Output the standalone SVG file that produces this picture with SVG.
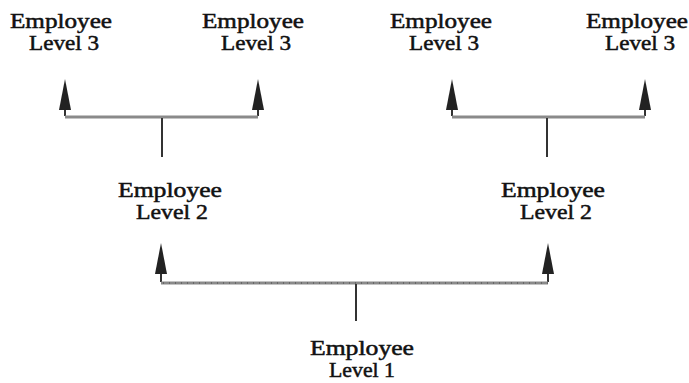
<svg xmlns="http://www.w3.org/2000/svg" width="689" height="383" viewBox="0 0 689 383">
  <style>
    .label { font-family: "Liberation Serif", "Times New Roman", serif; font-size: 21px; fill: #111; stroke: #111; stroke-width: 0.5; text-anchor: middle; }
    .bar { stroke: #8a8a8a; stroke-width: 3; fill: none; }
    .stem { stroke: #333; stroke-width: 2; fill: none; }
    .dots { stroke: #444; stroke-width: 1; stroke-dasharray: 1 5; fill: none; }
    .head { fill: #222; }
  </style>
  <defs>
    <path id="arrowhead" class="head" d="M0,0 L6,31 L-6,31 Z"/>
  </defs>

  <rect width="689" height="383" fill="#fff"/>

  <g id="connectors">
    <!-- left level-3 fork -->
    <path class="stem" d="M65,110 V116 M258,110 V116"/>
    <path class="bar" d="M65,117 H258"/>
    <path class="stem" d="M162,118 V157"/>
    <use href="#arrowhead" x="65" y="79"/>
    <use href="#arrowhead" x="258" y="79"/>

    <!-- right level-3 fork -->
    <path class="stem" d="M452,110 V116 M645,110 V116"/>
    <path class="bar" d="M452,117 H645"/>
    <path class="stem" d="M547,118 V157"/>
    <use href="#arrowhead" x="452" y="79"/>
    <use href="#arrowhead" x="645" y="79"/>

    <!-- level-2 fork -->
    <path class="stem" d="M161,272 V282 M548,272 V282"/>
    <path class="bar" d="M161,283 H548"/>
    <path class="dots" d="M163,283 H548"/>
    <path class="stem" d="M356,284 V321"/>
    <use href="#arrowhead" x="161" y="243"/>
    <use href="#arrowhead" x="548" y="243"/>
  </g>

  <g id="emp3a"><text class="label" x="61" y="28" textLength="102" lengthAdjust="spacingAndGlyphs">Employee</text><text class="label" x="64" y="50" textLength="70" lengthAdjust="spacingAndGlyphs">Level 3</text></g>
  <g id="emp3b"><text class="label" x="253" y="28" textLength="102" lengthAdjust="spacingAndGlyphs">Employee</text><text class="label" x="256" y="50" textLength="70" lengthAdjust="spacingAndGlyphs">Level 3</text></g>
  <g id="emp3c"><text class="label" x="441" y="28" textLength="102" lengthAdjust="spacingAndGlyphs">Employee</text><text class="label" x="444" y="50" textLength="70" lengthAdjust="spacingAndGlyphs">Level 3</text></g>
  <g id="emp3d"><text class="label" x="637" y="28" textLength="102" lengthAdjust="spacingAndGlyphs">Employee</text><text class="label" x="640" y="50" textLength="70" lengthAdjust="spacingAndGlyphs">Level 3</text></g>
  <g id="emp2a"><text class="label" x="170" y="197" textLength="104" lengthAdjust="spacingAndGlyphs">Employee</text><text class="label" x="172" y="219" textLength="72" lengthAdjust="spacingAndGlyphs">Level 2</text></g>
  <g id="emp2b"><text class="label" x="553" y="197" textLength="104" lengthAdjust="spacingAndGlyphs">Employee</text><text class="label" x="556" y="219" textLength="72" lengthAdjust="spacingAndGlyphs">Level 2</text></g>
  <g id="emp1"><text class="label" x="362" y="355" textLength="104" lengthAdjust="spacingAndGlyphs">Employee</text><text class="label" x="362" y="377" textLength="66" lengthAdjust="spacingAndGlyphs">Level 1</text></g>
</svg>
